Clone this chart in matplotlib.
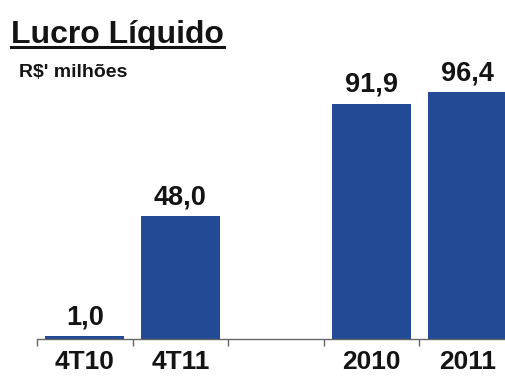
import matplotlib.pyplot as plt
from matplotlib.lines import Line2D
import numpy as np

plt.rcParams['font.family'] = ['Liberation Sans', 'DejaVu Sans']

# data
categories = ['4T10', '4T11', '', '2010', '2011']
values = [1.0, 48.0, np.nan, 91.9, 96.4]

bar_color = '#224a95'
text_color = '#141414'

fig = plt.figure(figsize=(5.06, 3.77), dpi=100)
ax = fig.add_axes([37 / 506, 38 / 377, 478 / 506, 319 / 377])

x = np.arange(len(categories))
ax.bar(x, values, width=0.83, color=bar_color)

# value labels
for xi, v in zip(x, values):
    if np.isnan(v):
        continue
    ax.annotate(f'{v:.1f}'.replace('.', ','), (xi, v), xytext=(0, 8.5),
                textcoords='offset points', ha='center', va='baseline',
                fontsize=19.5, fontweight='bold', color=text_color)

ax.set_xlim(-0.5, len(categories) - 0.5)
ax.set_ylim(0, 124.5)

# ticks at slot boundaries, labels at centres
ax.set_xticks(np.arange(len(categories) + 1) - 0.5)
ax.set_xticklabels([])
ax.set_xticks(x, minor=True)
ax.set_xticklabels(categories, minor=True, fontsize=19, fontweight='bold', color=text_color)
ax.tick_params(axis='x', which='major', direction='out', length=5, color='#666666', width=1)
ax.tick_params(axis='x', which='minor', length=0, pad=8)
ax.set_yticks([])

for s in ['top', 'right', 'left']:
    ax.spines[s].set_visible(False)
ax.spines['bottom'].set_color('#666666')
ax.spines['bottom'].set_linewidth(1)

# title with underline
title = fig.text(11 / 506, 1 - 42.5 / 377, 'Lucro Líquido', fontsize=23,
                 fontweight='bold', color=text_color, ha='left', va='baseline')
fig.text(19 / 506, 1 - 77 / 377, "R$' milhões", fontsize=14,
         fontweight='bold', color=text_color, ha='left', va='baseline')

fig.canvas.draw()
bb = title.get_window_extent().transformed(fig.transFigure.inverted())
uy = 1 - 47 / 377
fig.add_artist(Line2D([bb.x0, bb.x1], [uy, uy], transform=fig.transFigure,
                      color=text_color, linewidth=2.2))

fig.savefig('out.png', dpi=100)
